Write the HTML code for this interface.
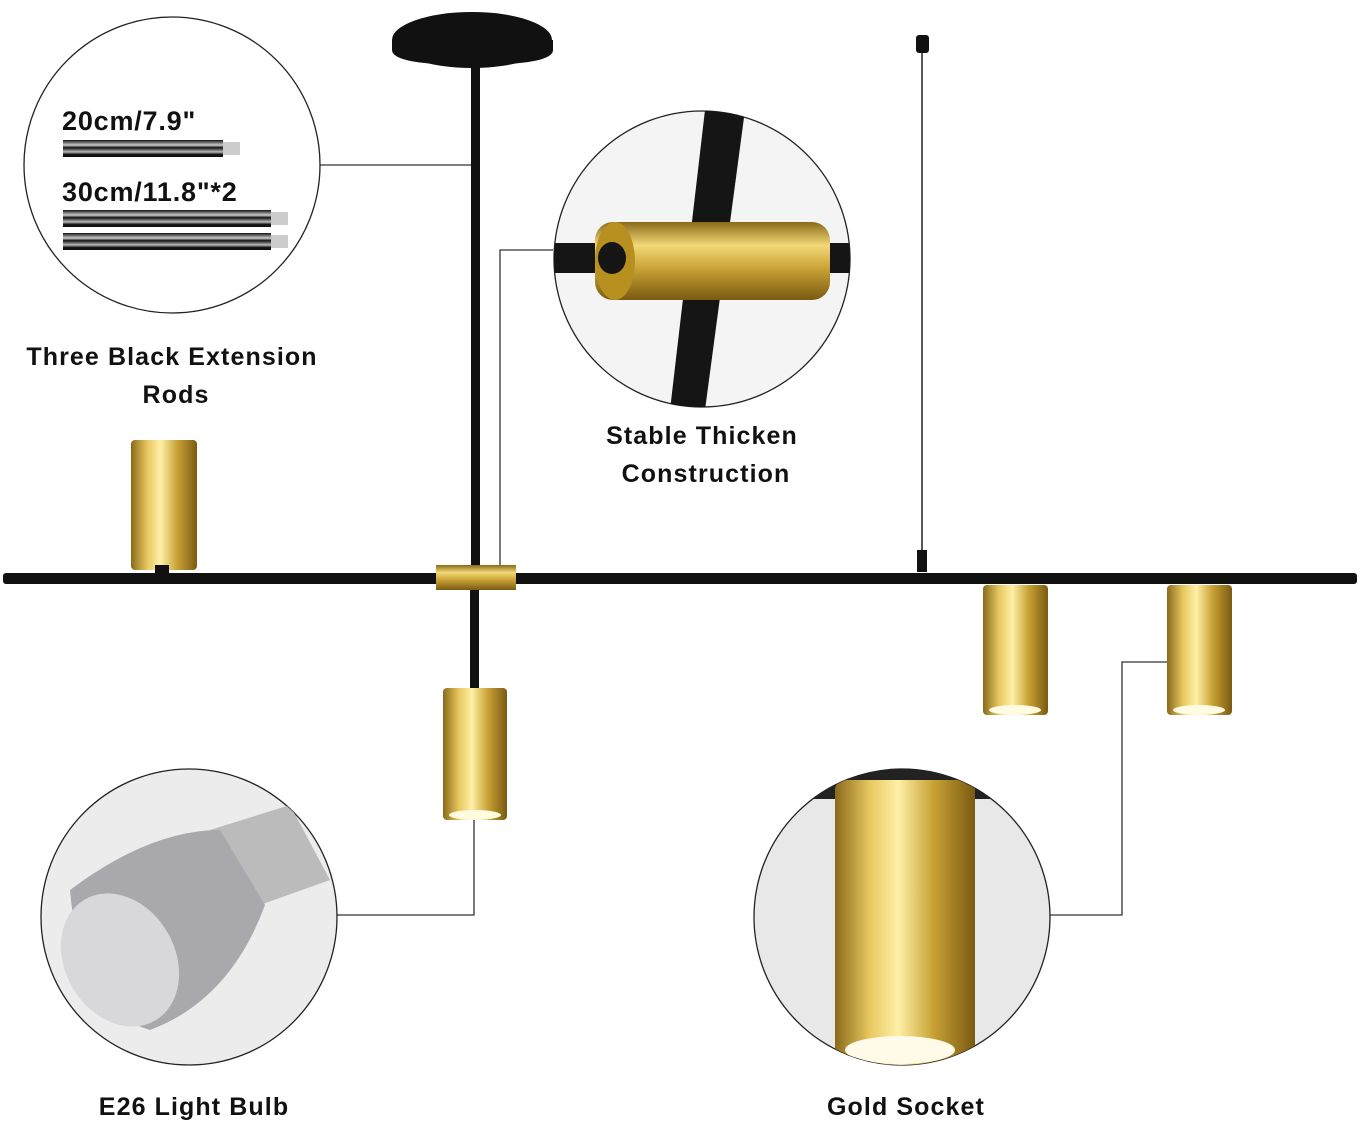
<!DOCTYPE html>
<html><head><meta charset="utf-8"><style>
html,body{margin:0;padding:0;background:#fff;}
svg{display:block;}
text{font-family:"Liberation Sans",sans-serif;font-weight:bold;fill:#111;}
</style></head><body>
<svg width="1360" height="1123" viewBox="0 0 1360 1123" xmlns="http://www.w3.org/2000/svg">
<defs>
<linearGradient id="g" x1="0" x2="1" y1="0" y2="0">
<stop offset="0" stop-color="#8a6a1a"/><stop offset="0.25" stop-color="#e8c860"/><stop offset="0.45" stop-color="#fff0a8"/><stop offset="0.7" stop-color="#c9a235"/><stop offset="1" stop-color="#7a5a12"/>
</linearGradient>
<linearGradient id="gh" x1="0" x2="0" y1="0" y2="1">
<stop offset="0" stop-color="#8a6a1a"/><stop offset="0.3" stop-color="#f2d878"/><stop offset="0.6" stop-color="#c9a235"/><stop offset="1" stop-color="#7a5a12"/>
</linearGradient>
<linearGradient id="rod" x1="0" x2="0" y1="0" y2="1">
<stop offset="0" stop-color="#111"/><stop offset="0.3" stop-color="#ccc"/><stop offset="0.45" stop-color="#111"/><stop offset="0.7" stop-color="#bbb"/><stop offset="0.85" stop-color="#111"/><stop offset="1" stop-color="#111"/>
</linearGradient>
</defs>
<g stroke="#333" stroke-width="1.3" fill="none">
<path d="M320 165 H476"/>
<path d="M553 250 H500 V565"/>
<path d="M336 915 H474 V820"/>
<path d="M1050 915 H1122 V662 H1168"/>
</g>
<ellipse cx="472" cy="40" rx="80" ry="28" fill="#111"/>
<path d="M392 40 L392 50 Q392 65 472 65 Q553 65 553 50 L553 40 Z" fill="#111"/>
<rect x="471" y="60" width="9" height="520" fill="#111"/>
<rect x="470" y="588" width="9" height="102" fill="#111"/>
<line x1="922" y1="50" x2="922" y2="555" stroke="#222" stroke-width="1.5"/>
<rect x="916" y="35" width="13" height="18" rx="3" fill="#111"/>
<rect x="917" y="550" width="10" height="22" fill="#111"/>
<rect x="3" y="573" width="1354" height="11" rx="3" fill="#111"/>
<rect x="436" y="565" width="80" height="25" fill="url(#gh)"/>
<rect x="131" y="440" width="66" height="130" rx="4" fill="url(#g)"/>
<rect x="155" y="565" width="14" height="10" fill="#111"/>
<rect x="983" y="585" width="65" height="130" rx="4" fill="url(#g)"/>
<ellipse cx="1015" cy="710" rx="26" ry="5" fill="#fffbe0"/>
<rect x="1167" y="585" width="65" height="130" rx="4" fill="url(#g)"/>
<ellipse cx="1199" cy="710" rx="26" ry="5" fill="#fffbe0"/>
<rect x="443" y="688" width="64" height="132" rx="4" fill="url(#g)"/>
<ellipse cx="475" cy="815" rx="26" ry="5" fill="#fffbe0"/>
<circle cx="172" cy="165" r="148" fill="#fff" stroke="#222" stroke-width="1.3"/>
<text x="62" y="130" font-size="27" letter-spacing="0.8">20cm/7.9"</text>
<rect x="63" y="140" width="160" height="17" fill="url(#rod)"/>
<rect x="223" y="142" width="17" height="13" fill="#ccc"/>
<text x="62" y="201" font-size="27" letter-spacing="0.8">30cm/11.8"*2</text>
<rect x="63" y="210" width="208" height="17" fill="url(#rod)"/>
<rect x="271" y="212" width="17" height="13" fill="#ccc"/>
<rect x="63" y="233" width="208" height="17" fill="url(#rod)"/>
<rect x="271" y="235" width="17" height="13" fill="#ccc"/>
<clipPath id="c2"><circle cx="702" cy="259" r="148"/></clipPath>
<circle cx="702" cy="259" r="148" fill="#f4f4f4" stroke="#222" stroke-width="1.3"/>
<g clip-path="url(#c2)">
<path d="M705 110 L745 110 L705 410 L670 410 Z" fill="#151515"/>
<rect x="550" y="243" width="300" height="30" fill="#151515"/>
<rect x="595" y="222" width="235" height="78" rx="18" fill="url(#gh)"/>
<ellipse cx="615" cy="261" rx="20" ry="39" fill="#b8901f"/>
<ellipse cx="612" cy="258" rx="14" ry="16" fill="#151515"/>
</g>
<clipPath id="c3"><circle cx="189" cy="917" r="148"/></clipPath>
<circle cx="189" cy="917" r="148" fill="#ececec" stroke="#222" stroke-width="1.3"/>
<g clip-path="url(#c3)">
<path d="M210 830 L290 805 L330 880 L260 905 Z" fill="#bbb"/>
<path d="M70 890 Q150 830 220 830 L265 905 Q230 1000 150 1030 Q80 1010 70 890 Z" fill="#a8a8ad"/>
<ellipse cx="120" cy="960" rx="55" ry="70" transform="rotate(-30 120 960)" fill="#d8d8da"/>
</g>
<clipPath id="c4"><circle cx="902" cy="917" r="148"/></clipPath>
<circle cx="902" cy="917" r="148" fill="#e8e8e8" stroke="#222" stroke-width="1.3"/>
<g clip-path="url(#c4)">
<rect x="750" y="769" width="310" height="30" fill="#222"/>
<rect x="835" y="780" width="140" height="300" rx="10" fill="url(#g)"/>
<ellipse cx="900" cy="1050" rx="55" ry="14" fill="#fffbe8"/>
</g>
<g font-size="25" letter-spacing="1.1">
<text x="172" y="365" text-anchor="middle">Three Black Extension</text>
<text x="176" y="403" text-anchor="middle">Rods</text>
<text x="702" y="444" text-anchor="middle">Stable Thicken</text>
<text x="706" y="482" text-anchor="middle">Construction</text>
<text x="194" y="1115" text-anchor="middle">E26 Light Bulb</text>
<text x="906" y="1115" text-anchor="middle">Gold Socket</text>
</g>
</svg>
</body></html>
